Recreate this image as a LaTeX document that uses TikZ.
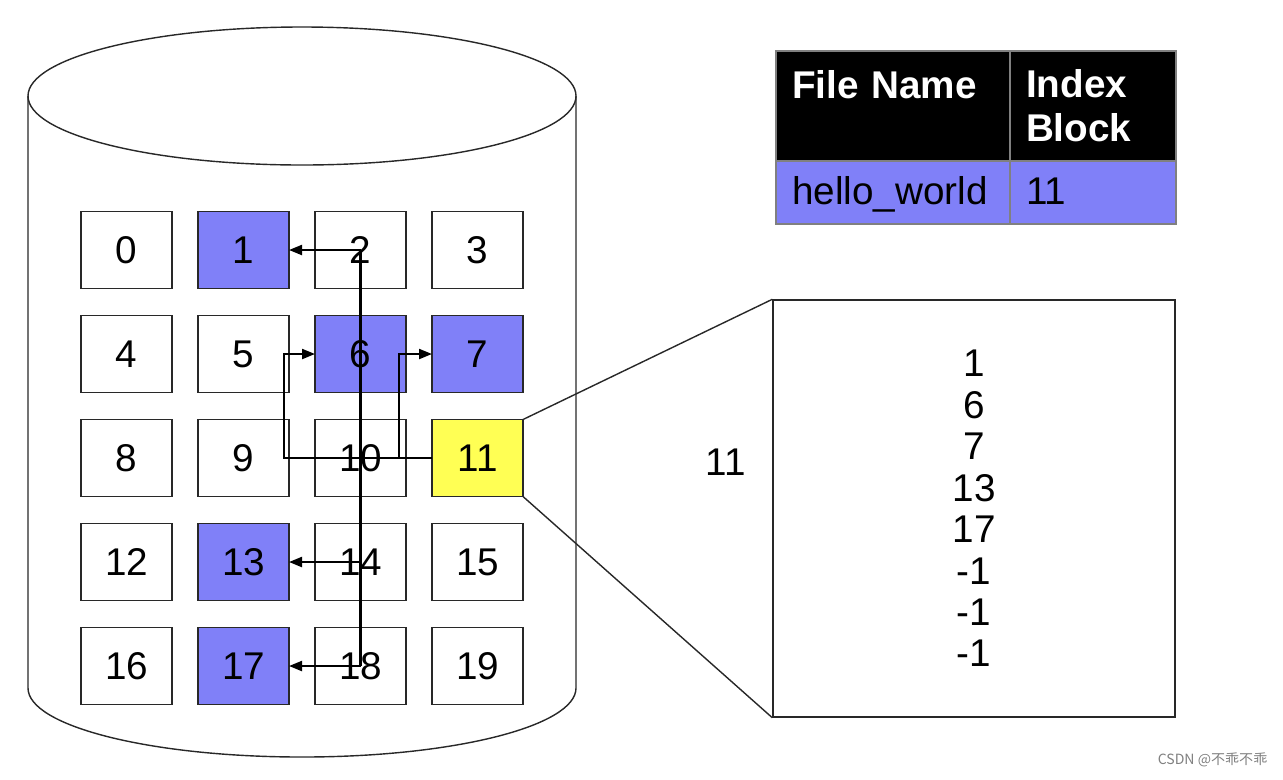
\documentclass[tikz,border=0pt]{standalone}
\usepackage{fontspec}
\setmainfont{Liberation Sans}
\newfontfamily\cjk{Noto Sans CJK SC}
\usepackage{tikz}
\usetikzlibrary{positioning,arrows.meta}
\definecolor{usedblue}{RGB}{128,128,248}
\definecolor{idxyellow}{RGB}{255,255,84}
\definecolor{edge}{RGB}{40,40,40}

\begin{document}
\begin{tikzpicture}[font=\fontsize{11}{11.8}\selectfont,
 c/.style={draw=edge,line width=0.4pt,fill=white,minimum width=0.91cm,minimum height=0.77cm,inner sep=0pt,outer sep=0pt},
 u/.style={c,fill=usedblue},
 ix/.style={c,fill=idxyellow},
 ptr/.style={line width=0.6pt,-{Triangle[length=1.3mm,width=1mm]}},
 cell/.style={draw=gray,line width=0.4pt,anchor=north west,inner xsep=0.16cm,inner ysep=0pt,outer sep=0pt,align=left},
 hd/.style={cell,fill=black,text=white,font=\fontsize{11}{12.5}\selectfont\bfseries,minimum height=1.10cm},
 row/.style={cell,fill=usedblue,minimum height=0.63cm,text height=0.85em,text depth=0.15em}]
 \useasboundingbox (0,0) rectangle (12.83,-7.79);
 % disk
 \draw[edge,fill=white] (0.28,-0.96) -- (0.28,-6.88) arc[start angle=180,end angle=360,x radius=2.74,y radius=0.69] -- (5.76,-0.96);
 \draw[edge] (3.02,-0.96) ellipse[x radius=2.74,y radius=0.69];
 % blocks
 \node[c](b0) at (1.265,-2.50){0};
 \node[u,right=0.26cm of b0](b1){1};
 \node[c,right=0.26cm of b1](b2){2};
 \node[c,right=0.26cm of b2](b3){3};
 \node[c,below=0.27cm of b0](b4){4};
 \node[c,right=0.26cm of b4](b5){5};
 \node[u,right=0.26cm of b5](b6){6};
 \node[u,right=0.26cm of b6](b7){7};
 \node[c,below=0.27cm of b4](b8){8};
 \node[c,right=0.26cm of b8](b9){9};
 \node[c,right=0.26cm of b9](b10){10};
 \node[ix,right=0.26cm of b10](b11){11};
 \node[c,below=0.27cm of b8](b12){12};
 \node[u,right=0.26cm of b12](b13){13};
 \node[c,right=0.26cm of b13](b14){14};
 \node[c,right=0.26cm of b14](b15){15};
 \node[c,below=0.27cm of b12](b16){16};
 \node[u,right=0.26cm of b16](b17){17};
 \node[c,right=0.26cm of b17](b18){18};
 \node[c,right=0.26cm of b18](b19){19};
 % pointers from the index block
 \draw[line width=0.6pt](b2.center)--(b18.center);
 \draw[ptr](b2.center)--(b1.east);
 \draw[ptr](b14.center)--(b13.east);
 \draw[ptr](b18.center)--(b17.east);
 \draw[ptr](b11.west)--++(-1.48,0)|-(b6.west);
 \draw[ptr](b11.west)--++(-0.33,0)|-(b7.west);
 % directory
 \node[hd,text width=2.02cm](fn) at (7.76,-0.51){File Name\\\mbox{}};
 \node[hd,text width=1.34cm](ib) at (10.10,-0.51){Index\\Block};
 \node[row,text width=2.02cm](hw) at (7.76,-1.61){hello\_world};
 \node[row,text width=1.34cm](no) at (10.10,-1.61){11};
 % index block contents
 \node[draw=edge,line width=0.4pt,minimum width=4.02cm,minimum height=4.17cm,inner sep=0pt,align=center](bx) at (9.74,-5.085){1\\6\\7\\13\\17\\-1\\-1\\-1};
 \node(lb) at (7.26,-4.62){11};
 \draw[edge,line width=0.4pt](b11.north east)--(bx.north west);
 \draw[edge,line width=0.4pt](b11.south east)--(bx.south west);
 \node[anchor=east,inner sep=0pt,text=gray,font=\fontsize{4}{5}\cjk](wm) at (12.68,-7.60){CSDN @不乖不乖};
\end{tikzpicture}
\end{document}
